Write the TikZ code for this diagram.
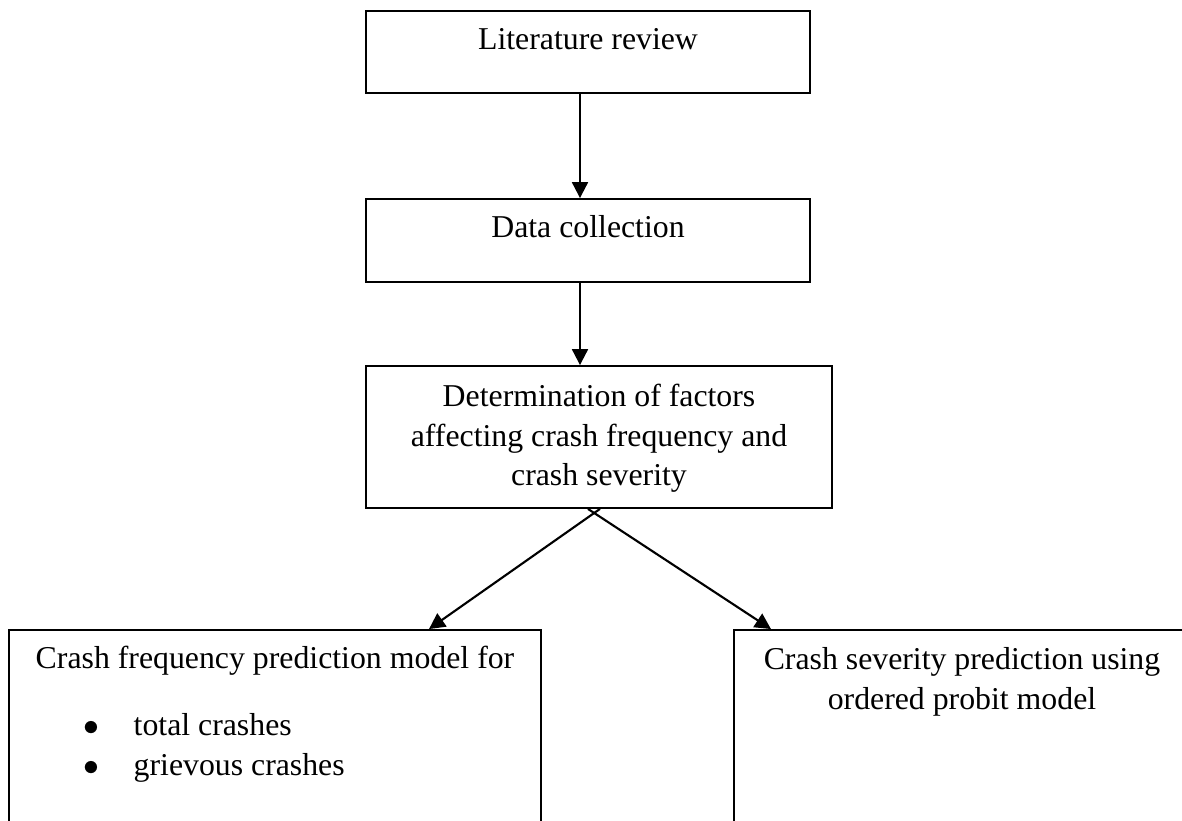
\documentclass[tikz,border=0pt]{standalone}
\usepackage{fontspec}
\setmainfont{Liberation Serif}
\usetikzlibrary{positioning,arrows.meta}
\newcommand{\px}{0.3774pt}

\begin{document}
\begin{tikzpicture}[x=\px,y=-\px,
		box/.style={draw,line width=0.7pt,inner sep=0pt},
		txt/.style={inner sep=0pt,align=center,font=\fontsize{12}{15}\selectfont,execute at begin node=\strut},
		arr/.style={-{Triangle[width=6pt,length=6pt]},line width=0.8pt}]
	\useasboundingbox (0,0) rectangle (1182,821);
	\clip (0,0) rectangle (1182,821);

	\node[box,minimum width=444*\px,minimum height=82*\px] (lit) at (588,52) {};
	\node[box,minimum width=444*\px,minimum height=83*\px] (data) at (588,240.5) {};
	\node[box,minimum width=466*\px,minimum height=142*\px] (det) at (599,437) {};
	\node[box,minimum width=532*\px,minimum height=270*\px] (freq) at (275,765) {};
	\node[box,minimum width=456*\px,minimum height=270*\px] (sev) at (962,765) {};

	\node[txt,below=4.2pt of lit.north] (littext) {Literature review};
	\node[txt,below=4.2pt of data.north] (datatext) {Data collection};
	\node[txt,below=6.9pt of det.north] (dettext) {Determination of factors\\affecting crash frequency and\\crash severity};
	\node[txt,below=4.2pt of freq.north] (freqtext) {Crash frequency prediction model for};
	\node[txt,align=left,anchor=north west] (items) at ([xshift=75*\px,yshift=-84*\px]freq.north west)
		{\makebox[18.9pt][l]{$\bullet$}total crashes\\\makebox[18.9pt][l]{$\bullet$}grievous crashes};
	\node[txt,below=6.9pt of sev.north] (sevtext) {Crash severity prediction using\\ordered probit model};

	\coordinate (dd) at ([xshift=-8*\px]data.south);
	\draw[arr] ([xshift=-8*\px]lit.south) -- ([xshift=-8*\px]data.north);
	\draw[arr] (dd) -- (dd |- det.north);
	\draw[arr] ([xshift=1*\px]det.south) -- ([xshift=154*\px]freq.north);
	\draw[arr] ([xshift=-11*\px]det.south) -- ([xshift=-191*\px]sev.north);
\end{tikzpicture}
\end{document}
